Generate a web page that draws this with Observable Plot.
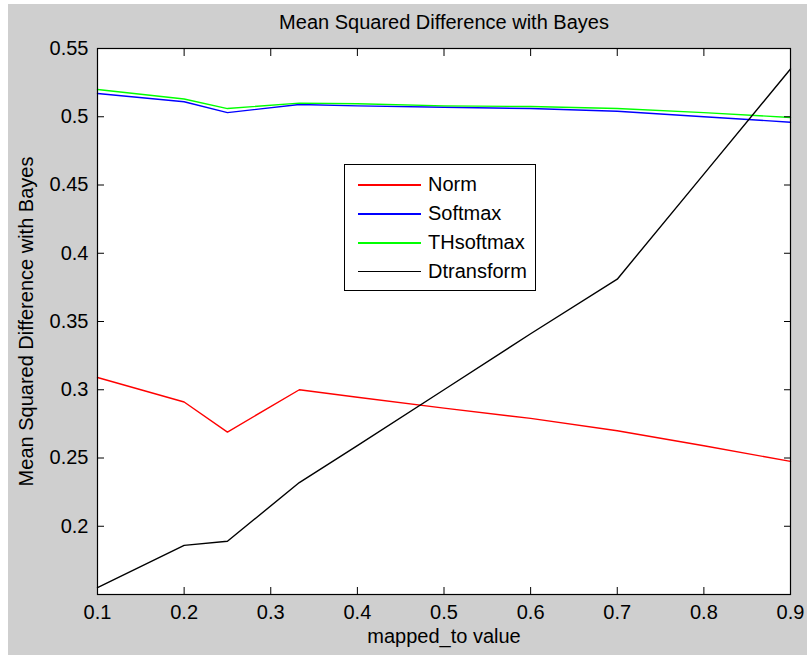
<!DOCTYPE html>
<html><head><meta charset="utf-8">
<script src="https://cdn.jsdelivr.net/npm/d3@7"></script>
<script src="https://cdn.jsdelivr.net/npm/@observablehq/plot@0.6"></script>
<style>
html,body{margin:0;padding:0;background:#fff;}
body{width:807px;height:656px;position:relative;overflow:hidden;font-family:"Liberation Sans",Arial,sans-serif;}
#fig{position:absolute;left:8px;top:4px;width:799px;height:651px;background:#cfcfcf;}
#fig svg{display:block;}
#legend{position:absolute;left:344px;top:164px;width:190px;height:125px;border:1px solid #000;background:#fff;}
.row{position:absolute;left:0;height:29px;width:190px;}
.row .ln{position:absolute;left:13px;top:14px;width:63px;height:2px;}
.row .tx{position:absolute;left:83px;top:0;line-height:29px;font-size:20px;color:#000;white-space:nowrap;}
</style>
</head><body>
<div id="fig"></div>
<div id="legend"></div>
<script>
const titleText = "Mean Squared Difference with Bayes";
const xLabel = "mapped_to value";
const yLabel = "Mean Squared Difference with Bayes";

const xValues = [0.1, 0.2, 0.25, 0.333, 0.4, 0.5, 0.6, 0.7, 0.8, 0.9];
const normValues = [0.309, 0.291, 0.269, 0.300, 0.2945, 0.2865, 0.279, 0.270, 0.259, 0.2475];
const softmaxValues = [0.517, 0.511, 0.503, 0.509, 0.508, 0.507, 0.506, 0.504, 0.500, 0.496];
const thsoftmaxValues = [0.520, 0.513, 0.506, 0.510, 0.5095, 0.508, 0.5075, 0.506, 0.503, 0.4995];
const dtransformValues = [0.155, 0.186, 0.189, 0.232, 0.259, 0.300, 0.341, 0.381, 0.458, 0.535];

const seriesNames = ["Norm", "Softmax", "THsoftmax", "Dtransform"];
const seriesColors = ["#ff0000", "#0000ff", "#00ff00", "#000000"];

const xTicks = [0.1, 0.2, 0.3, 0.4, 0.5, 0.6, 0.7, 0.8, 0.9];
const xTickLabels = ["0.1", "0.2", "0.3", "0.4", "0.5", "0.6", "0.7", "0.8", "0.9"];
const yTicks = [0.2, 0.25, 0.3, 0.35, 0.4, 0.45, 0.5, 0.55];
const yTickLabels = ["0.2", "0.25", "0.3", "0.35", "0.4", "0.45", "0.5", "0.55"];

const seriesValues = [normValues, softmaxValues, thsoftmaxValues, dtransformValues];
const data = [];
seriesNames.forEach((name, s) => xValues.forEach((x, i) => data.push({name, x, y: seriesValues[s][i]})));

const font = '"Liberation Sans",Arial,sans-serif';
const fmtX = d => xTickLabels[xTicks.findIndex(t => Math.abs(t - d) < 1e-9)];
const fmtY = d => yTickLabels[yTicks.findIndex(t => Math.abs(t - d) < 1e-9)];

const chart = Plot.plot({
  width: 799, height: 651,
  marginLeft: 89, marginTop: 44, marginRight: 17, marginBottom: 61,
  style: {background: "transparent", fontFamily: font, fontSize: "20px", color: "#000", overflow: "visible"},
  x: {domain: [0.1, 0.9]},
  y: {domain: [0.15, 0.55]},
  color: {domain: seriesNames, range: seriesColors},
  marks: [
    Plot.frame({fill: "white", stroke: "none"}),
    Plot.lineY(data, {x: "x", y: "y", z: "name", stroke: "name", strokeWidth: 1.4}),
    Plot.axisX({anchor: "bottom", ticks: xTicks, tickSize: -7, tickFormat: () => "", label: null, stroke: "black", strokeOpacity: 1}),
    Plot.axisX({anchor: "top", ticks: xTicks, tickSize: -7, tickFormat: () => "", label: null, stroke: "black", strokeOpacity: 1}),
    Plot.axisY({anchor: "left", ticks: yTicks, tickSize: -7, tickFormat: () => "", label: null, stroke: "black", strokeOpacity: 1}),
    Plot.axisY({anchor: "right", ticks: yTicks, tickSize: -7, tickFormat: () => "", label: null, stroke: "black", strokeOpacity: 1}),
    Plot.axisX({anchor: "bottom", ticks: xTicks, tickSize: 0, tickPadding: 10, tickFormat: fmtX, label: null, fill: "#000"}),
    Plot.axisY({anchor: "left", ticks: yTicks, tickSize: 0, tickPadding: 9, tickFormat: fmtY, label: null, fill: "#000"}),
    Plot.frame({stroke: "black", strokeWidth: 1.2}),
    Plot.text([titleText], {text: d => d, frameAnchor: "top", textAnchor: "middle", lineAnchor: "middle", dy: -26, fontSize: 20, fill: "#000"}),
    Plot.text([xLabel], {text: d => d, frameAnchor: "bottom", textAnchor: "middle", lineAnchor: "middle", dy: 42, fontSize: 20, fill: "#000"}),
    Plot.text([yLabel], {text: d => d, frameAnchor: "left", textAnchor: "middle", lineAnchor: "middle", rotate: -90, dx: -71, fontSize: 20, fill: "#000"})
  ]
});
document.getElementById("fig").appendChild(chart);

const legend = document.getElementById("legend");
const rowCenters = [19, 48, 77, 106];
seriesNames.forEach((name, i) => {
  const row = document.createElement("div");
  row.className = "row";
  row.style.top = (rowCenters[i] - 14.5) + "px";
  const ln = document.createElement("div");
  ln.className = "ln";
  ln.style.background = seriesColors[i];
  if (i === 3) ln.style.height = "1.5px";
  const tx = document.createElement("div");
  tx.className = "tx";
  tx.textContent = name;
  row.appendChild(ln); row.appendChild(tx);
  legend.appendChild(row);
});
</script>
</body></html>
